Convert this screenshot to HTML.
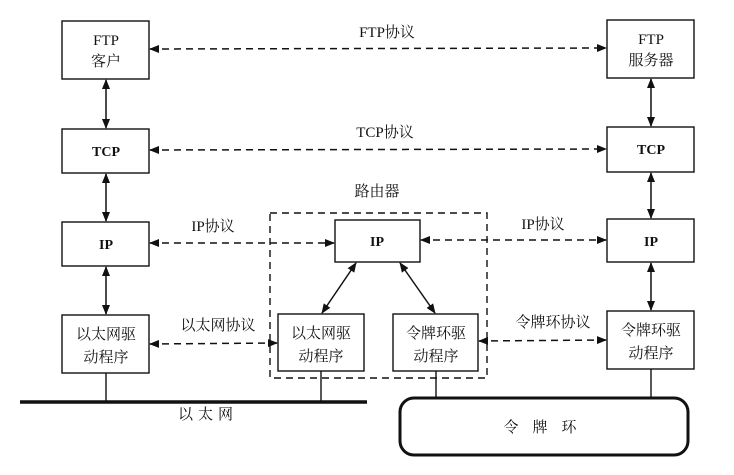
<!DOCTYPE html>
<html><head><meta charset="utf-8"><style>
body{margin:0;background:#fff}
svg text{font-family:"Liberation Serif","Noto Serif CJK SC",serif;fill:#111}
</style></head><body>
<svg width="734" height="470" viewBox="0 0 734 470" xmlns="http://www.w3.org/2000/svg">
<defs>
<marker id="a" markerWidth="10" markerHeight="8" refX="9" refY="4" orient="auto-start-reverse" markerUnits="userSpaceOnUse"><path d="M0,0 L10,4 L0,8 z" fill="#111"/></marker>
</defs>
<g fill="none" stroke="#111" stroke-width="1.4">
<rect x="62" y="21" width="87" height="58"/>
<rect x="62" y="129" width="87" height="44"/>
<rect x="62" y="222" width="87" height="44"/>
<rect x="62" y="315" width="87" height="58"/>
<rect x="607" y="20" width="87" height="58"/>
<rect x="607" y="127" width="87" height="45"/>
<rect x="607" y="219" width="87" height="43"/>
<rect x="607" y="311" width="87" height="58"/>
<rect x="335" y="220" width="85" height="42"/>
<rect x="278" y="314" width="86" height="57"/>
<rect x="393" y="314" width="85" height="57"/>
<rect x="270" y="213" width="217" height="165" stroke-dasharray="7,5"/>
<rect x="400" y="398" width="288" height="57" rx="14" stroke-width="3"/>
<line x1="20" y1="402" x2="367" y2="402" stroke-width="3.5"/>
<line x1="106" y1="373" x2="106" y2="402"/>
<line x1="321" y1="371" x2="321" y2="402"/>
<line x1="436" y1="371" x2="436" y2="398"/>
<line x1="651" y1="369" x2="651" y2="398"/>
</g>
<g stroke="#111" stroke-width="1.5" marker-start="url(#a)" marker-end="url(#a)">
<line x1="106" y1="80" x2="106" y2="128"/>
<line x1="106" y1="174" x2="106" y2="221"/>
<line x1="106" y1="267" x2="106" y2="314"/>
<line x1="651" y1="79" x2="651" y2="126"/>
<line x1="651" y1="173" x2="651" y2="218"/>
<line x1="651" y1="263" x2="651" y2="310"/>
<line x1="356" y1="263" x2="322" y2="313"/>
<line x1="400" y1="263" x2="435" y2="313"/>
</g>
<g stroke="#111" stroke-width="1.5" stroke-dasharray="7,5" marker-start="url(#a)" marker-end="url(#a)">
<line x1="150" y1="49" x2="606" y2="48"/>
<line x1="150" y1="150" x2="606" y2="149"/>
<line x1="150" y1="243" x2="334" y2="243"/>
<line x1="421" y1="240" x2="606" y2="240"/>
<line x1="150" y1="344" x2="277" y2="343"/>
<line x1="479" y1="341" x2="606" y2="340"/>
</g>
<g font-size="15" text-anchor="middle">
<text x="106" y="45">FTP</text><text x="106" y="66">客户</text>
<text x="106" y="156" font-weight="bold" font-size="14">TCP</text>
<text x="106" y="249" font-weight="bold" font-size="14">IP</text>
<text x="106" y="339">以太网驱</text><text x="106" y="362">动程序</text>
<text x="651" y="44">FTP</text><text x="651" y="65">服务器</text>
<text x="651" y="154" font-weight="bold" font-size="14">TCP</text>
<text x="651" y="246" font-weight="bold" font-size="14">IP</text>
<text x="651" y="335">令牌环驱</text><text x="651" y="358">动程序</text>
<text x="377" y="246" font-weight="bold" font-size="14">IP</text>
<text x="321" y="338">以太网驱</text><text x="321" y="361">动程序</text>
<text x="436" y="338">令牌环驱</text><text x="436" y="361">动程序</text>
<text x="387" y="37">FTP协议</text>
<text x="385" y="137">TCP协议</text>
<text x="377" y="196">路由器</text>
<text x="213" y="231">IP协议</text>
<text x="543" y="229">IP协议</text>
<text x="218" y="330">以太网协议</text>
<text x="553" y="327">令牌环协议</text>
<text x="208" y="419" letter-spacing="5">以太网</text>
<text x="547" y="432" letter-spacing="14">令牌环</text>
</g>
</svg>
</body></html>
